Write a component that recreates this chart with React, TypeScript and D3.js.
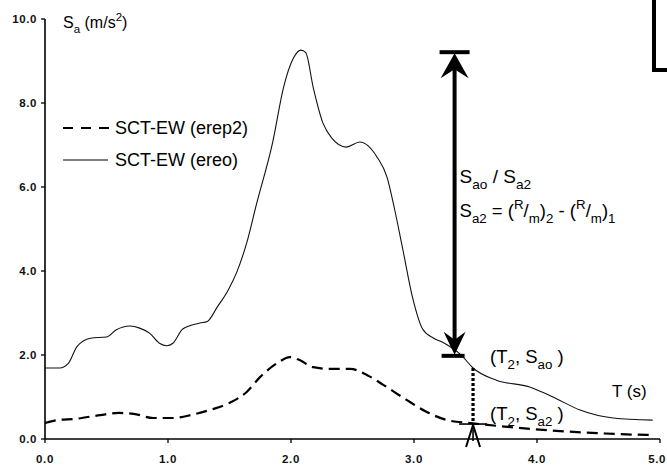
import * as d3 from 'd3'

// SCT-EW (ereo) — solid
const periodsEreo = [0, 0.12, 0.19, 0.26, 0.37, 0.5, 0.58, 0.69, 0.77, 0.85, 0.93, 0.99, 1.04, 1.12, 1.26, 1.32, 1.4, 1.49, 1.56, 1.64, 1.72, 1.85, 1.94, 2.02, 2.08, 2.12, 2.18, 2.26, 2.33, 2.45, 2.56, 2.7, 2.78, 2.84, 2.91, 2.99, 3.07, 3.16, 3.24, 3.39, 3.48, 3.67, 3.94, 4.13, 4.35, 4.62, 4.94]
const saEreo = [1.69, 1.69, 1.8, 2.2, 2.4, 2.43, 2.6, 2.69, 2.64, 2.52, 2.28, 2.22, 2.28, 2.62, 2.76, 2.8, 3.14, 3.55, 3.98, 4.67, 5.6, 7.05, 8.38, 9.07, 9.26, 9.2, 8.38, 7.52, 7.17, 6.95, 7.07, 6.71, 6.24, 5.5, 4.5, 3.35, 2.62, 2.4, 2.29, 1.98, 1.69, 1.4, 1.24, 1.0, 0.69, 0.5, 0.45]

// SCT-EW (erep2) — dashed
const periodsErep2 = [0, 0.1, 0.25, 0.45, 0.6, 0.72, 0.88, 1.04, 1.2, 1.34, 1.5, 1.64, 1.75, 1.89, 1.99, 2.07, 2.18, 2.32, 2.48, 2.62, 2.75, 2.94, 3.1, 3.27, 3.46, 3.76, 4.08, 4.49, 4.89, 4.95]
const saErep2 = [0.38, 0.45, 0.48, 0.57, 0.62, 0.6, 0.5, 0.5, 0.58, 0.69, 0.86, 1.12, 1.48, 1.81, 1.95, 1.88, 1.71, 1.67, 1.67, 1.52, 1.29, 0.93, 0.65, 0.45, 0.38, 0.29, 0.21, 0.14, 0.1, 0.1]

const xTicks = [0, 1, 2, 3, 4, 5]
const yTicks = [0, 2, 4, 6, 8, 10]

// annotation anchors (data units)
const arrowT = 3.33
const saoTop = 9.21
const saoBottom = 1.98
const t2 = 3.48
const saoAtT2 = 1.69
const sa2AtT2 = 0.38

const FONT = '"Liberation Sans", Arial, sans-serif'

type Seg = { t: string; k?: 'sub' | 'sup' }

function RichText({ x, y, segs, size }: { x: number; y: number; segs: Seg[]; size: number }) {
  let cur = 0
  const out = segs.map((s, i) => {
    const target = s.k === 'sub' ? size * 0.3 : s.k === 'sup' ? -size * 0.42 : 0
    const dy = target - cur
    cur = target
    return (
      <tspan key={i} dy={dy} fontSize={s.k ? size * 0.72 : size}>
        {s.t}
      </tspan>
    )
  })
  return (
    <text x={x} y={y} fontFamily={FONT} fontSize={size} fill="#000">
      {out}
    </text>
  )
}

function arrowHead(x: number, tipY: number, dir: number, w: number, h: number, notch: number) {
  // dir: -1 points up, +1 points down
  const back = tipY - dir * h
  const mid = tipY - dir * (h - notch)
  return `M${x},${tipY} L${x + w / 2},${back} L${x},${mid} L${x - w / 2},${back} Z`
}

export default function App() {
  const W = 667
  const H = 467
  const x = d3.scaleLinear().domain([0, 5]).range([45, 660])
  const y = d3.scaleLinear().domain([0, 10]).range([439, 19])

  const line = d3
    .line<[number, number]>()
    .x((d) => x(d[0]))
    .y((d) => y(d[1]))
    .curve(d3.curveMonotoneX)

  const ereo = periodsEreo.map((t, i) => [t, saEreo[i]] as [number, number])
  const erep2 = periodsErep2.map((t, i) => [t, saErep2[i]] as [number, number])

  const ax = x(arrowT)
  const yTop = y(saoTop)
  const yBot = y(saoBottom)
  const dx = x(t2)

  return (
    <svg width={W} height={H} style={{ position: 'absolute', left: 0, top: 0, background: '#fff' }}>
      <rect width={W} height={H} fill="#fff" />

      {/* axes */}
      <line x1={x(0)} x2={x(0)} y1={y(10)} y2={y(0)} stroke="#000" strokeWidth={1.6} />
      <line x1={x(0)} x2={x(5)} y1={y(0)} y2={y(0)} stroke="#000" strokeWidth={1.6} />
      {yTicks.map((v) => (
        <g key={'y' + v}>
          <line x1={x(0) - 4} x2={x(0)} y1={y(v)} y2={y(v)} stroke="#000" strokeWidth={1.3} />
          <text
            x={x(0) - 8}
            y={y(v)}
            dy="0.35em"
            textAnchor="end"
            fontFamily={FONT}
            fontWeight="bold"
            fontSize={11.5}
            letterSpacing={0.6}
            fill="#111"
          >
            {d3.format('.1f')(v)}
          </text>
        </g>
      ))}
      {xTicks.map((v) => (
        <g key={'x' + v}>
          <line x1={x(v)} x2={x(v)} y1={y(0)} y2={y(0) + 4} stroke="#000" strokeWidth={1.3} />
          <text
            x={v === 5 ? W - 1 : x(v)}
            y={y(0) + 24}
            textAnchor={v === 5 ? 'end' : 'middle'}
            fontFamily={FONT}
            fontWeight="bold"
            fontSize={11.5}
            letterSpacing={0.6}
            fill="#111"
          >
            {d3.format('.1f')(v)}
          </text>
        </g>
      ))}

      {/* axis titles */}
      <RichText
        x={63}
        y={28}
        size={16}
        segs={[{ t: 'S' }, { t: 'a', k: 'sub' }, { t: ' (m/s' }, { t: '2', k: 'sup' }, { t: ')' }]}
      />
      <text x={612} y={397} fontFamily={FONT} fontSize={17} fill="#000">
        T (s)
      </text>

      {/* series */}
      <path d={line(ereo) ?? ''} fill="none" stroke="#111" strokeWidth={1.1} />
      <path d={line(erep2) ?? ''} fill="none" stroke="#000" strokeWidth={2.2} strokeDasharray="11,6" />

      {/* legend */}
      <line x1={63} x2={110} y1={128} y2={128} stroke="#000" strokeWidth={2} strokeDasharray="10,8" />
      <text x={115} y={134} fontFamily={FONT} fontSize={18} fill="#000">
        SCT-EW (erep2)
      </text>
      <line x1={63} x2={108} y1={160} y2={160} stroke="#000" strokeWidth={1.1} />
      <text x={115} y={166} fontFamily={FONT} fontSize={18} fill="#000">
        SCT-EW (ereo)
      </text>

      {/* double arrow S_ao */}
      <line x1={ax} x2={ax} y1={yTop + 6} y2={yBot - 6} stroke="#000" strokeWidth={4} />
      <line x1={ax - 15} x2={ax + 15} y1={yTop} y2={yTop} stroke="#000" strokeWidth={4} />
      <line x1={ax - 13} x2={ax + 10} y1={yBot} y2={yBot} stroke="#000" strokeWidth={4} />
      <path d={arrowHead(ax, yTop + 1, -1, 28, 25, 9)} fill="#000" />
      <path d={arrowHead(ax, yBot - 1, 1, 22, 23, 8)} fill="#000" />

      {/* dotted drop T2 */}
      <line
        x1={dx}
        x2={dx}
        y1={y(saoAtT2)}
        y2={y(sa2AtT2)}
        stroke="#000"
        strokeWidth={3.2}
        strokeDasharray="3,2"
      />
      <line x1={dx - 14} x2={dx + 14} y1={y(sa2AtT2) + 1} y2={y(sa2AtT2) + 1} stroke="#000" strokeWidth={1.6} />
      <line x1={dx} x2={dx} y1={y(sa2AtT2) + 1} y2={y(0) + 2} stroke="#000" strokeWidth={1.6} />
      <path
        d={`M${dx - 7},${y(0) + 8} L${dx},${y(sa2AtT2) + 2} L${dx + 7},${y(0) + 8}`}
        fill="none"
        stroke="#000"
        strokeWidth={2}
      />

      {/* annotations */}
      <RichText
        x={ax + 5}
        y={183}
        size={19}
        segs={[{ t: 'S' }, { t: 'ao', k: 'sub' }, { t: ' / S' }, { t: 'a2', k: 'sub' }]}
      />
      <RichText
        x={ax + 5}
        y={217}
        size={18.5}
        segs={[
          { t: 'S' },
          { t: 'a2', k: 'sub' },
          { t: ' = (' },
          { t: 'R', k: 'sup' },
          { t: '/' },
          { t: 'm', k: 'sub' },
          { t: ')' },
          { t: '2', k: 'sub' },
          { t: ' - (' },
          { t: 'R', k: 'sup' },
          { t: '/' },
          { t: 'm', k: 'sub' },
          { t: ')' },
          { t: '1', k: 'sub' },
        ]}
      />
      <RichText
        x={490}
        y={363}
        size={18.5}
        segs={[{ t: '(T' }, { t: '2', k: 'sub' }, { t: ', S' }, { t: 'ao', k: 'sub' }, { t: ' )' }]}
      />
      <RichText
        x={490}
        y={420}
        size={18.5}
        segs={[{ t: '(T' }, { t: '2', k: 'sub' }, { t: ', S' }, { t: 'a2', k: 'sub' }, { t: ' )' }]}
      />

      {/* cropped bracket top-right */}
      <path d="M654,0 L654,70 L667,70" fill="none" stroke="#000" strokeWidth={4} />
    </svg>
  )
}
